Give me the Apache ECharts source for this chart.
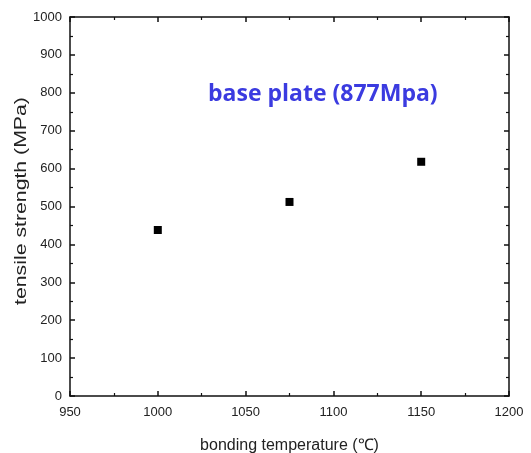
<!DOCTYPE html>
<html><head><meta charset="utf-8">
<script src="https://cdn.jsdelivr.net/npm/echarts@6/dist/echarts.min.js"></script>
<style>html,body{margin:0;padding:0;background:#fff}#c{width:531px;height:453px}</style>
</head><body><div id="c"></div>
<script>
const temperatures = [1000, 1075, 1150];
const strengths = [438, 512, 618];
const xTicks = [950, 1000, 1050, 1100, 1150, 1200];
const yTicks = [0, 100, 200, 300, 400, 500, 600, 700, 800, 900, 1000];
const annotation = 'base plate (877Mpa)';
const xTitle = 'bonding temperature (\u2103)';
const yTitle = 'tensile strength (MPa)';

const chart = echarts.init(document.getElementById('c'));
const font = 'Liberation Sans, Arial, sans-serif';
function axisLine() { return {show: true, onZero: false, lineStyle: {color: '#111', width: 1.5}}; }
function tick() { return {show: true, inside: true, length: 5, lineStyle: {color: '#111', width: 1.5}}; }
function minor() { return {show: true, splitNumber: 2, length: 3, lineStyle: {color: '#111', width: 1.2}}; }
function xAx(pos, extra) {
  return Object.assign({
    type: 'value', min: xTicks[0], max: xTicks[xTicks.length - 1], interval: 50,
    position: pos, axisLine: axisLine(), axisTick: tick(), minorTick: minor(),
    splitLine: {show: false}, minorSplitLine: {show: false}
  }, extra);
}
function yAx(pos, extra) {
  return Object.assign({
    type: 'value', min: yTicks[0], max: yTicks[yTicks.length - 1], interval: 100,
    position: pos, axisLine: axisLine(), axisTick: tick(), minorTick: minor(),
    splitLine: {show: false}, minorSplitLine: {show: false}
  }, extra);
}
chart.setOption({
  animation: false,
  backgroundColor: '#fff',
  grid: {left: 70, right: 22, top: 17, bottom: 57, containLabel: false, outerBoundsMode: 'none'},
  xAxis: [
    xAx('bottom', {
      name: xTitle, nameLocation: 'middle', nameGap: 42,
      nameTextStyle: {fontSize: 16, color: '#222', fontFamily: font},
      axisLabel: {fontSize: 13, color: '#222', fontFamily: font, margin: 10, formatter: v => String(v)}
    }),
    xAx('top', {axisLabel: {show: false}})
  ],
  yAxis: [
    yAx('left', {
      axisLabel: {fontSize: 13, color: '#222', fontFamily: font, margin: 8, formatter: v => String(v)}
    }),
    yAx('right', {axisLabel: {show: false}})
  ],
  graphic: [{
    type: 'text', left: 208, top: 83,
    style: {text: annotation, fill: '#3b3be0', font: 'bold 23px "Open Sans", "Noto Sans", sans-serif'}
  }, {
    type: 'text', x: 21, y: 201, rotation: Math.PI / 2, scaleX: 1.25,
    style: {text: yTitle, fill: '#222', font: '17px "Liberation Sans", Arial, sans-serif',
            align: 'center', verticalAlign: 'middle'}
  }],
  series: [{
    type: 'scatter', xAxisIndex: 0, yAxisIndex: 0,
    symbol: 'rect', symbolSize: 8,
    itemStyle: {color: '#000', opacity: 1},
    data: temperatures.map((t, i) => [t, strengths[i]])
  }, {
    type: 'scatter', xAxisIndex: 1, yAxisIndex: 1, silent: true,
    symbolSize: 0, itemStyle: {opacity: 0}, data: []
  }]
});
</script></body></html>
